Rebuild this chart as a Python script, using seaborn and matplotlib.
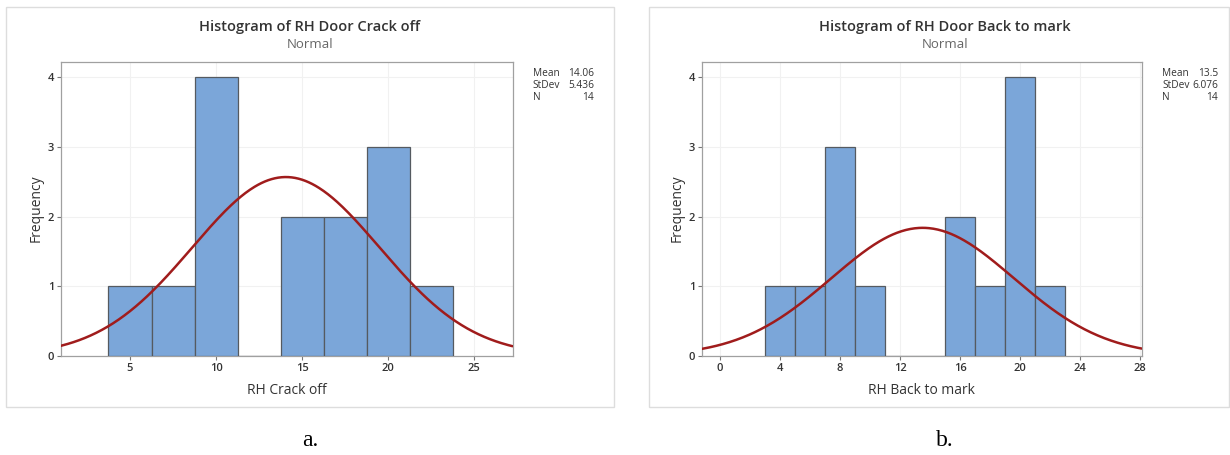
import numpy as np
import pandas as pd
import matplotlib
matplotlib.use("Agg")
import matplotlib.pyplot as plt
from matplotlib.patches import Rectangle
import seaborn as sns

# ---- data ----
a_edges = [3.75, 6.25, 8.75, 11.25, 13.75, 16.25, 18.75, 21.25, 23.75]
a_counts = [1, 1, 4, 0, 2, 2, 3, 1]
a_mean, a_sd, a_n = 14.06, 5.436, 14
a_xticks = [5, 10, 15, 20, 25]

b_edges = [3, 5, 7, 9, 11, 13, 15, 17, 19, 21, 23]
b_counts = [1, 1, 3, 1, 0, 0, 2, 1, 4, 1]
b_mean, b_sd, b_n = 13.5, 6.076, 14
b_xticks = [0, 4, 8, 12, 16, 20, 24, 28]

yticks = [0, 1, 2, 3, 4]

sns.set_theme(style="white")
plt.rcParams['font.family'] = ['Open Sans', 'DejaVu Sans']

W, H = 1230, 455
fig = plt.figure(figsize=(W / 100, H / 100), dpi=100)

def px_axes(l, r, t, b):
    return fig.add_axes([l / W, 1 - b / H, (r - l) / W, (b - t) / H])

BAR = "#7BA6D9"
EDGE = "#555a60"
CURVE = "#A01C1C"
TXT = "#333333"

def panel(ax, edges, counts, mean, sd, n, xlim, xticks, title, xlabel):
    e = np.array(edges, dtype=float)
    centers = (e[:-1] + e[1:]) / 2
    df = pd.DataFrame({"x": centers, "w": np.array(counts, dtype=float)})
    sns.histplot(data=df, x="x", weights="w", bins=list(edges), ax=ax,
                 color=BAR, alpha=1, edgecolor=EDGE, linewidth=0.9, zorder=3)
    bw = e[1] - e[0]
    xs = np.linspace(xlim[0], xlim[1], 400)
    ys = n * bw * np.exp(-0.5 * ((xs - mean) / sd) ** 2) / (sd * np.sqrt(2 * np.pi))
    sns.lineplot(x=xs, y=ys, ax=ax, color=CURVE, linewidth=1.8, zorder=4)
    ax.set_xlim(*xlim)
    ax.set_ylim(0, 4.23)
    ax.set_xticks(xticks)
    ax.set_yticks(yticks)
    ax.grid(True, color="#F1F1F1", linewidth=0.8, zorder=0)
    ax.set_axisbelow(True)
    for s in ax.spines.values():
        s.set_color("#A0A0A0")
        s.set_linewidth(0.9)
    ax.tick_params(axis="both", direction="out", length=3, width=0.8, color="#777777",
                   labelsize=8, labelcolor=TXT, pad=2, bottom=True, left=True)
    for lab in ax.get_xticklabels() + ax.get_yticklabels():
        lab.set_fontweight("semibold")
    ax.set_xlabel(xlabel, fontsize=10, color=TXT, labelpad=7)
    ax.set_ylabel("Frequency", fontsize=10, color=TXT, labelpad=3)

ax1 = px_axes(61, 512.5, 61.5, 355.7)
panel(ax1, a_edges, a_counts, a_mean, a_sd, a_n, (0.99, 27.23), a_xticks,
      "Histogram of RH Door Crack off", "RH Crack off")
ax2 = px_axes(702, 1141.7, 61.5, 355.7)
panel(ax2, b_edges, b_counts, b_mean, b_sd, b_n, (-1.2, 28.1), b_xticks,
      "Histogram of RH Door Back to mark", "RH Back to mark")

# panel frames
for (l, r) in [(6, 614), (649, 1229)]:
    fig.patches.append(Rectangle((l / W, 1 - 407 / H), (r - l) / W, 400 / H,
                                 transform=fig.transFigure, fill=False,
                                 edgecolor="#DDDDDD", linewidth=1.0))

def ftext(x, y, s, **kw):
    fig.text(x / W, 1 - y / H, s, **kw)

# titles
ftext(310, 27.5, "Histogram of RH Door Crack off", ha="center", va="center",
      fontsize=10.5, fontweight="semibold", color=TXT)
ftext(310, 44.5, "Normal", ha="center", va="center", fontsize=9.5, color="#666666")
ftext(945, 27.5, "Histogram of RH Door Back to mark", ha="center", va="center",
      fontsize=10.5, fontweight="semibold", color=TXT)
ftext(945, 44.5, "Normal", ha="center", va="center", fontsize=9.5, color="#666666")

# stats boxes
def stats(xl, xr, mean, sd, n):
    rows = [("Mean", f"{mean:g}"), ("StDev", f"{sd:g}"), ("N", f"{n}")]
    for i, (k, v) in enumerate(rows):
        y = 73 + i * 12
        ftext(xl, y, k, ha="left", va="center", fontsize=7.3, color=TXT)
        ftext(xr, y, v, ha="right", va="center", fontsize=7.3, color=TXT)

stats(532.5, 594, a_mean, a_sd, a_n)
stats(1162, 1218, b_mean, b_sd, b_n)

# panel captions
ftext(310, 440, "a.", ha="center", va="center", fontsize=17,
      family=["Liberation Serif", "DejaVu Serif"], color="black")
ftext(945, 440, "b.", ha="center", va="center", fontsize=17,
      family=["Liberation Serif", "DejaVu Serif"], color="black")

fig.savefig("out.png", dpi=100, facecolor="white")
